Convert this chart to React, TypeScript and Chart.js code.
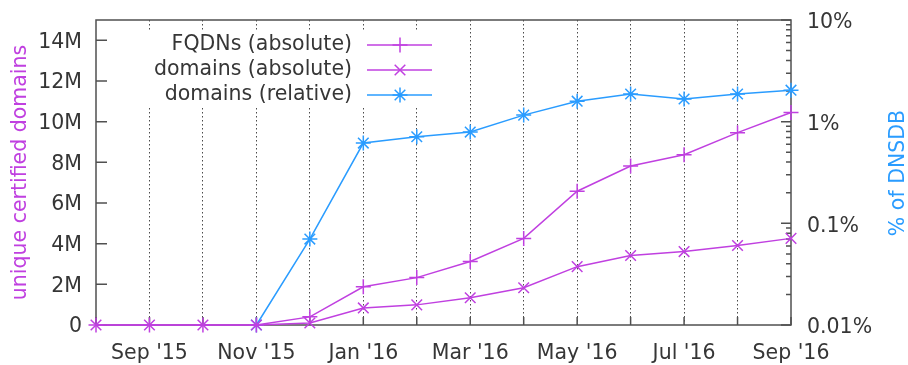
import React, { useEffect, useRef } from 'react';
import { Chart, registerables } from 'chart.js';

Chart.register(...registerables);

// ---- data ----
const months = ["Aug '15", "Sep '15", "Oct '15", "Nov '15", "Dec '15", "Jan '16", "Feb '16", "Mar '16", "Apr '16", "May '16", "Jun '16", "Jul '16", "Aug '16", "Sep '16"];
// millions
const fqdnsAbsolute = [0, 0, 0, 0, 0.4, 1.88, 2.33, 3.12, 4.26, 6.58, 7.82, 8.37, 9.46, 10.45];
const domainsAbsolute = [0, 0, 0, 0, 0.1, 0.84, 0.99, 1.34, 1.83, 2.87, 3.42, 3.61, 3.91, 4.26];
// percent of DNSDB
const domainsRelative = [null, null, null, 0.01, 0.07, 0.616, 0.71, 0.79, 1.16, 1.59, 1.87, 1.67, 1.87, 2.04];
const leftTicks = [0, 2, 4, 6, 8, 10, 12, 14];
const rightTicks = [0.01, 0.1, 1, 10];
const seriesLabels = ['FQDNs (absolute)', 'domains (absolute)', 'domains (relative)'];

const MAGENTA = '#c040e0';
const BLUE = '#2a9cff';
const TEXT = '#363636';
const AXIS = '#505050';
const FONT = "'DejaVu Sans', sans-serif";
const FS = 20.5;

function drawMarker(ctx: CanvasRenderingContext2D, style: string, x: number, y: number, r: number) {
  ctx.beginPath();
  if (style === 'cross' || style === 'star') {
    ctx.moveTo(x - r, y); ctx.lineTo(x + r, y);
    ctx.moveTo(x, y - r); ctx.lineTo(x, y + r);
  }
  if (style === 'crossRot' || style === 'star') {
    const d = r * Math.SQRT1_2;
    ctx.moveTo(x - d, y - d); ctx.lineTo(x + d, y + d);
    ctx.moveTo(x - d, y + d); ctx.lineTo(x + d, y - d);
  }
  ctx.stroke();
}

const decorPlugin = {
  id: 'decor',
  beforeDatasetsDraw(chart: any) {
    const ctx: CanvasRenderingContext2D = chart.ctx;
    const { left, right, top, bottom } = chart.chartArea;
    const xs = chart.scales.x;
    const ys = chart.scales.y;
    const y1 = chart.scales.y1;
    ctx.save();
    // legend box (opaque)
    ctx.fillStyle = '#ffffff';
    ctx.fillRect(141, 32, 300, 75);

    // frame
    ctx.strokeStyle = AXIS;
    ctx.lineWidth = 1.5;
    ctx.strokeRect(left, top, right - left, bottom - top);

    // left ticks (inside)
    ctx.beginPath();
    leftTicks.forEach((v) => {
      const y = ys.getPixelForValue(v);
      ctx.moveTo(left, y); ctx.lineTo(left + 11, y);
    });
    // bottom ticks (inside)
    months.forEach((_, i) => {
      const x = xs.getPixelForValue(i);
      ctx.moveTo(x, bottom); ctx.lineTo(x, bottom - 8);
    });
    // right log ticks
    rightTicks.forEach((v) => {
      const y = y1.getPixelForValue(v);
      ctx.moveTo(right, y); ctx.lineTo(right - 10, y);
    });
    for (let d = 0; d < rightTicks.length - 1; d++) {
      for (let m = 2; m <= 9; m++) {
        const y = y1.getPixelForValue(rightTicks[d] * m);
        ctx.moveTo(right, y); ctx.lineTo(right - 5, y);
      }
    }
    ctx.stroke();

    // legend
    const styles = ['cross', 'crossRot', 'star'];
    const colors = [MAGENTA, MAGENTA, BLUE];
    ctx.font = `${FS}px ${FONT}`;
    ctx.textAlign = 'right';
    ctx.textBaseline = 'middle';
    seriesLabels.forEach((lab, i) => {
      const y = 45 + i * 25;
      ctx.fillStyle = TEXT;
      ctx.fillText(lab, 352, y);
      ctx.strokeStyle = colors[i];
      ctx.lineWidth = 1.5;
      ctx.beginPath();
      ctx.moveTo(367, y); ctx.lineTo(432, y);
      ctx.stroke();
      drawMarker(ctx, styles[i], 400, y, 7.5);
    });

    // right axis title (reads bottom to top)
    ctx.translate(899, 173);
    ctx.rotate(-Math.PI / 2);
    ctx.textAlign = 'center';
    ctx.fillStyle = BLUE;
    ctx.fillText('% of DNSDB', 0, 0);
    ctx.restore();
  },
};

export default function App() {
  const ref = useRef<HTMLCanvasElement>(null);
  useEffect(() => {
    if (!ref.current) return;
    Chart.defaults.font.family = FONT;
    const common = {
      borderWidth: 1.5,
      pointRadius: 7.5,
      pointHoverRadius: 7.5,
      pointBorderWidth: 1.5,
      tension: 0,
      fill: false,
      clip: false as any,
    };
    const chart = new Chart(ref.current, {
      type: 'line',
      data: {
        labels: months,
        datasets: [
          { ...common, label: seriesLabels[0], data: fqdnsAbsolute, yAxisID: 'y', borderColor: MAGENTA, backgroundColor: MAGENTA, pointBorderColor: MAGENTA, pointStyle: 'cross' },
          { ...common, label: seriesLabels[1], data: domainsAbsolute, yAxisID: 'y', borderColor: MAGENTA, backgroundColor: MAGENTA, pointBorderColor: MAGENTA, pointStyle: 'crossRot' },
          { ...common, label: seriesLabels[2], data: domainsRelative as any, yAxisID: 'y1', borderColor: BLUE, backgroundColor: BLUE, pointBorderColor: BLUE, pointStyle: 'star', spanGaps: false },
        ],
      },
      options: {
        animation: false,
        responsive: false,
        events: [],
        layout: { padding: { top: 20, left: 0, right: 0, bottom: 0 } },
        plugins: { legend: { display: false }, tooltip: { enabled: false } },
        scales: {
          x: {
            type: 'category',
            offset: false,
            afterFit: (s: any) => { s.height = 40; s.paddingLeft = 0; s.paddingRight = 0; },
            border: { display: false, dash: [1.5, 2.5] },
            grid: {
              drawTicks: false,
              lineWidth: 1,
              color: (c: any) => (c.index === 0 || c.index === months.length - 1 ? 'rgba(0,0,0,0)' : '#4a4a4a'),
            },
            ticks: {
              autoSkip: false,
              maxRotation: 0,
              minRotation: 0,
              padding: 16,
              color: TEXT,
              font: { size: FS },
              callback: (_v: any, i: number) => (i % 2 === 1 ? months[i] : ''),
            },
          },
          y: {
            type: 'linear',
            position: 'left',
            min: 0,
            max: 15,
            afterFit: (s: any) => { s.width = 96; s.paddingTop = 0; s.paddingBottom = 0; },
            afterBuildTicks: (s: any) => { s.ticks = leftTicks.map((v) => ({ value: v })); },
            border: { display: false },
            grid: { display: false, drawTicks: false },
            ticks: {
              padding: 14,
              labelOffset: 2,
              color: TEXT,
              font: { size: FS },
              callback: (v: any) => (v === 0 ? '0' : `${v}M`),
            },
            title: {
              display: true,
              text: 'unique certified domains',
              color: MAGENTA,
              font: { size: FS },
              padding: { top: 8, bottom: 0 },
            },
          },
          y1: {
            type: 'logarithmic',
            position: 'right',
            min: 0.01,
            max: 10,
            afterFit: (s: any) => { s.width = 117; s.paddingTop = 0; s.paddingBottom = 0; },
            afterBuildTicks: (s: any) => { s.ticks = rightTicks.map((v) => ({ value: v })); },
            border: { display: false },
            grid: { display: false, drawTicks: false },
            ticks: {
              padding: 16,
              labelOffset: 3,
              color: TEXT,
              font: { size: FS },
              callback: (v: any) => `${v}%`,
            },
          },
        },
      },
      plugins: [decorPlugin],
    });
    return () => chart.destroy();
  }, []);
  return (
    <div style={{ position: 'fixed', left: 0, top: 0, width: 908, height: 365, background: '#fff' }}>
      <canvas ref={ref} width={908} height={365} style={{ width: 908, height: 365, display: 'block' }} />
    </div>
  );
}
